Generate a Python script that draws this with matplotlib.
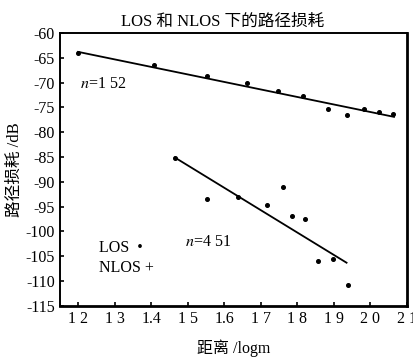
import matplotlib.pyplot as plt

plt.rcParams['font.family'] = ['Liberation Serif', 'Noto Sans CJK SC']
plt.rcParams['mathtext.fontset'] = 'stix'

# LOS measurements
los_x = [1.20, 1.408, 1.553, 1.662, 1.746, 1.817, 1.883, 1.935, 1.984, 2.025, 2.063]
los_y = [-64.0, -66.4, -68.7, -70.1, -71.7, -72.7, -75.3, -76.5, -75.3, -75.9, -76.3]
# NLOS measurements
nlos_x = [1.465, 1.552, 1.637, 1.716, 1.760, 1.785, 1.820, 1.856, 1.897, 1.938]
nlos_y = [-85.1, -93.4, -93.0, -94.6, -91.0, -96.9, -97.5, -105.9, -105.5, -110.8]

# fitted lines (endpoints)
los_fit_x = [1.20, 2.065]
los_fit_y = [-63.8, -76.9]
nlos_fit_x = [1.465, 1.935]
nlos_fit_y = [-85.1, -106.3]

xticks = [1.2, 1.3, 1.4, 1.5, 1.6, 1.7, 1.8, 1.9, 2.0, 2.1]
xtick_labels = ['1 2', '1 3', '1.4', '1 5', '1.6', '1 7', '1 8', '1 9', '2 0', '2 1']
yticks = [-60, -65, -70, -75, -80, -85, -90, -95, -100, -105, -110, -115]
ytick_labels = ['-60', '-65', '-70', '-75', '-80', '-85', '-90', '-95', '-100', '-105', '-110', '-115']

fig = plt.figure(figsize=(4.13, 3.59), dpi=100)
ax = fig.add_axes([0.145, 0.148, 0.840, 0.760])

ax.plot(los_fit_x, los_fit_y, color='black', lw=1.3)
ax.plot(nlos_fit_x, nlos_fit_y, color='black', lw=1.3)
ax.plot(los_x, los_y, 'o', color='black', ms=2.6, ls='none')
ax.plot(nlos_x, nlos_y, 'o', color='black', ms=2.6, ls='none')

ax.set_xlim(1.15, 2.1)
ax.set_ylim(-115, -60)
ax.set_xticks(xticks)
ax.set_xticklabels(xtick_labels)
ax.set_yticks(yticks)
ax.set_yticklabels(ytick_labels)
ax.tick_params(direction='in', length=3, width=1.2, labelsize=11.5)

for side in ['left', 'top']:
    ax.spines[side].set_linewidth(1.4)
for side in ['right', 'bottom']:
    ax.spines[side].set_linewidth(2.0)

ax.text(1.205, -70.3, r'$n$=1 52', fontsize=11.5, va='center')
ax.text(1.492, -102.1, r'$n$=4 51', fontsize=11.5, va='center')

# legend written as plain text, as in the original figure
ax.text(1.258, -103.4, 'LOS  •', fontsize=11.5, va='center')
ax.text(1.258, -107.4, 'NLOS +', fontsize=11.5, va='center')

ax.set_title('LOS 和 NLOS 下的路径损耗', fontsize=12, pad=5, x=0.47)
ax.set_ylabel('路径损耗 /dB', fontsize=12, labelpad=2)
ax.set_xlabel('距离 /logm', fontsize=11.5, labelpad=9)

fig.savefig('out.png', dpi=100)
